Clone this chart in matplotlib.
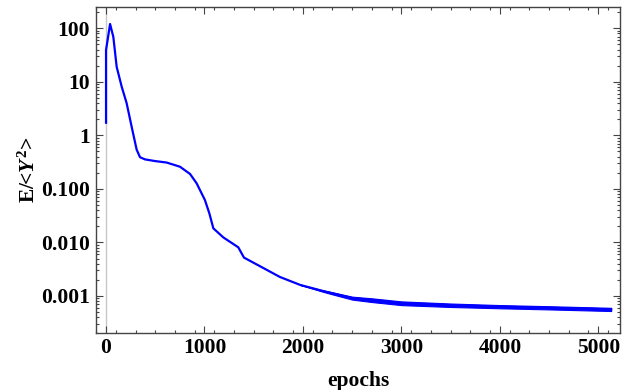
import numpy as np
import matplotlib
matplotlib.use("Agg")
import matplotlib.pyplot as plt
from matplotlib.ticker import FixedLocator, LogLocator, NullFormatter

plt.rcParams['font.family'] = 'Liberation Serif'
plt.rcParams['font.weight'] = 'bold'
plt.rcParams['mathtext.fontset'] = 'custom'
plt.rcParams['mathtext.rm'] = 'Liberation Serif:bold'
plt.rcParams['mathtext.it'] = 'Liberation Serif:italic:bold'

# training loss
epochs = [0, 0, 41, 74, 108, 159, 209, 260, 311, 345, 396, 500, 616, 751, 853, 920,
          1004, 1049, 1090, 1191, 1343, 1401, 1614, 1766, 1970, 2200, 2500, 3000, 3500,
          4000, 4500, 5130]
loss = [1.72, 39, 120, 69, 19, 8.1, 4.0, 1.45, 0.54, 0.39, 0.355, 0.33, 0.31, 0.259, 0.19,
        0.127, 0.062, 0.035, 0.0183, 0.0124, 0.0081, 0.0052, 0.0032, 0.00226, 0.00161,
        0.00124, 0.00091, 0.00073, 0.00067, 0.00063, 0.00060, 0.00056]

# spread of the noisy tail (decades, +/-)
band_epochs = [1970, 2300, 2700, 3000, 4000, 5130]
band_width = [0.0, 0.02, 0.035, 0.035, 0.03, 0.03]

xticks = [0, 1000, 2000, 3000, 4000, 5000]
yticks = [1e-3, 1e-2, 1e-1, 1, 10, 100]
ytick_labels = ['0.001', '0.010', '0.100', '1', '10', '100']

fig = plt.figure(figsize=(6.25, 3.9), dpi=100)
ax = fig.add_axes([0.1528, 0.147, 0.840, 0.834])

ax.axvline(0, color='#c8c8c8', lw=1.0, zorder=1)
ax.plot(epochs, loss, color='blue', lw=1.6, zorder=3)

# noisy tail as a band around the curve
be = np.array(band_epochs, dtype=float)
bx = np.linspace(be[0], be[-1], 300)
mid = np.interp(bx, epochs, np.log10(loss))
half = np.interp(bx, be, band_width)
ax.fill_between(bx, 10 ** (mid - half), 10 ** (mid + half), color='blue', lw=0.8, zorder=3)

ax.set_yscale('log')
ax.set_xlim(-107, 5225)
ax.set_ylim(2.06e-4, 245)

ax.xaxis.set_major_locator(FixedLocator(xticks))
ax.xaxis.set_minor_locator(FixedLocator(np.arange(-100, 5300, 200)))
ax.set_xticklabels([str(t) for t in xticks])
ax.yaxis.set_major_locator(FixedLocator(yticks))
ax.set_yticklabels(ytick_labels)
ax.yaxis.set_minor_locator(LogLocator(base=10, subs=np.arange(2, 10)))
ax.yaxis.set_minor_formatter(NullFormatter())

ax.tick_params(which='both', direction='in', top=True, right=True, color='#444444',
               labelsize=15.5, width=0.8, pad=4)
ax.tick_params(which='major', length=5)
ax.tick_params(which='minor', length=2.5)
for s in ax.spines.values():
    s.set_color('#444444')
    s.set_linewidth(1.0)

ax.set_xlabel('epochs', fontsize=15.5, fontweight='bold', labelpad=9)
ax.set_ylabel(r'E/<$Y^2$>', fontsize=15.5, fontweight='bold', labelpad=1)

fig.savefig('out.png', dpi=100)
